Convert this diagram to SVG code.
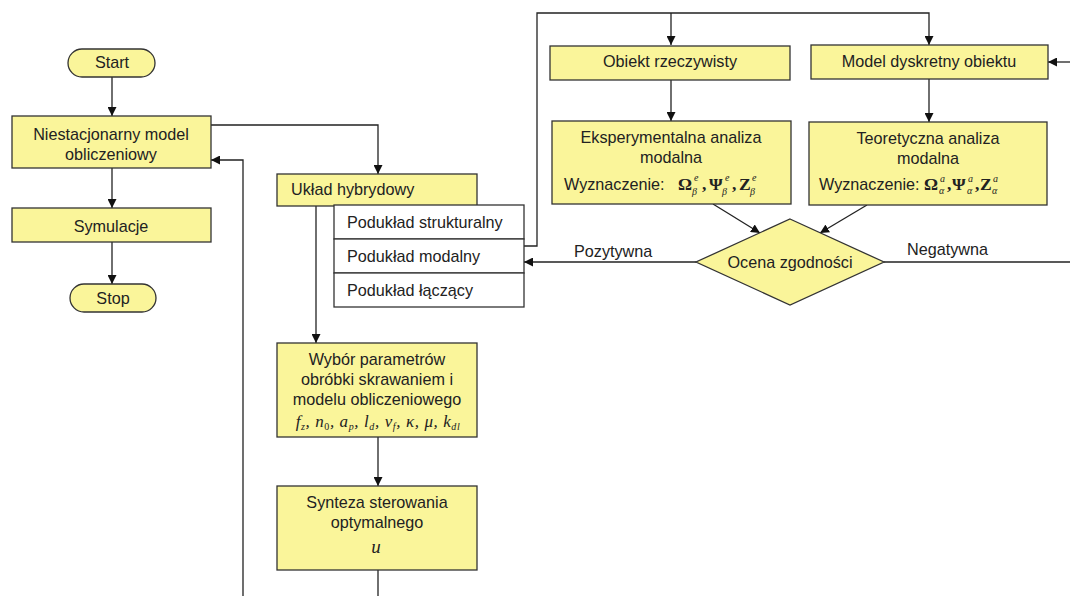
<svg xmlns="http://www.w3.org/2000/svg" width="1070" height="596" viewBox="0 0 1070 596">
  <style>
    .box { fill: #FAF59A; stroke: #333; stroke-width: 1.3; }
    .cell { fill: #FFFFFF; stroke: #333; stroke-width: 1.3; }
    .t { font-family: "Liberation Sans", Arial, sans-serif; font-size: 16.2px; fill: #222; }
    .c { text-anchor: middle; }
    .m { font-family: "Liberation Serif", "Times New Roman", serif; font-style: italic; fill: #222; }
    .g { font-family: "Liberation Serif", "Times New Roman", serif; font-weight: bold; font-size: 17.5px; fill: #222; }
    .sup { font-family: "Liberation Serif", "Times New Roman", serif; font-style: italic; font-size: 10px; fill: #222; }
    .ln { fill: none; stroke: #222; stroke-width: 1.3; }
    .arr { marker-end: url(#ah); }
  </style>
  <defs>
    <marker id="ah" viewBox="0 0 10 10" refX="10" refY="5" markerWidth="9" markerHeight="9" markerUnits="userSpaceOnUse" orient="auto">
      <path d="M0,0 L10,5 L0,10 Z" fill="#111"/>
    </marker>
  </defs>

  <!-- connectors -->
  <g id="connectors">
    <line class="ln arr" x1="112" y1="77" x2="112" y2="116"/>
    <line class="ln arr" x1="112" y1="168" x2="112" y2="208"/>
    <line class="ln arr" x1="112" y1="242" x2="112" y2="284"/>
    <polyline class="ln arr" points="211,125 378,125 378,174"/>
    <polyline class="ln arr" points="243,596 243,160 211,160"/>
    <line class="ln arr" x1="316" y1="206" x2="316" y2="343"/>
    <line class="ln arr" x1="378" y1="437" x2="378" y2="486"/>
    <line class="ln" x1="378" y1="570" x2="378" y2="596"/>
    <polyline class="ln arr" points="524,246 537,246 537,13 929,13 929,45"/>
    <line class="ln arr" x1="671" y1="13" x2="671" y2="45"/>
    <line class="ln arr" x1="671" y1="80" x2="671" y2="121"/>
    <line class="ln arr" x1="929" y1="79" x2="929" y2="122"/>
    <line class="ln arr" x1="1070" y1="62" x2="1048" y2="62"/>
    <line class="ln arr" x1="713" y1="204" x2="760" y2="233"/>
    <line class="ln arr" x1="867" y1="205" x2="820" y2="233"/>
    <line class="ln arr" x1="696" y1="262" x2="524" y2="262"/>
    <line class="ln" x1="884" y1="262" x2="1070" y2="262"/>
    <text class="t" x="574" y="257">Pozytywna</text>
    <text class="t" x="907" y="255">Negatywna</text>
  </g>

  <g id="start">
    <rect class="box" x="68" y="49" width="87" height="28" rx="14" ry="14"/>
    <text class="t c" x="112" y="68">Start</text>
  </g>

  <g id="model-niestacjonarny">
    <rect class="box" x="12" y="116" width="199" height="52"/>
    <text class="t c" x="111" y="140">Niestacjonarny model</text>
    <text class="t c" x="111" y="160">obliczeniowy</text>
  </g>

  <g id="symulacje">
    <rect class="box" x="12" y="208" width="199" height="34"/>
    <text class="t c" x="111" y="232">Symulacje</text>
  </g>

  <g id="stop">
    <rect class="box" x="70" y="284" width="86" height="28" rx="14" ry="14"/>
    <text class="t c" x="113" y="304">Stop</text>
  </g>

  <g id="uklad-hybrydowy">
    <rect class="box" x="277" y="174" width="200" height="32"/>
    <text class="t" x="291" y="195">Układ hybrydowy</text>
  </g>

  <g id="podukłady">
    <rect class="cell" x="334" y="205" width="190" height="34"/>
    <rect class="cell" x="334" y="239" width="190" height="34"/>
    <rect class="cell" x="334" y="273" width="190" height="34"/>
    <text class="t" x="347" y="228">Podukład strukturalny</text>
    <text class="t" x="347" y="262">Podukład modalny</text>
    <text class="t" x="347" y="296">Podukład łączący</text>
  </g>

  <g id="wybor-parametrow">
    <rect class="box" x="277" y="343" width="200" height="94"/>
    <text class="t c" x="377" y="365">Wybór parametrów</text>
    <text class="t c" x="377" y="385">obróbki skrawaniem i</text>
    <text class="t c" x="377" y="405">modelu obliczeniowego</text>
    <text class="m c" x="378" y="427" font-size="17" letter-spacing="0.6">f<tspan font-size="10" dy="3">z</tspan><tspan dy="-3">, n</tspan><tspan font-size="10" font-style="normal" dy="3">0</tspan><tspan dy="-3">, a</tspan><tspan font-size="10" dy="3">p</tspan><tspan dy="-3">, l</tspan><tspan font-size="10" dy="3">d</tspan><tspan dy="-3">, v</tspan><tspan font-size="10" dy="3">f</tspan><tspan dy="-3">, κ, μ, k</tspan><tspan font-size="10" dy="3">dl</tspan></text>
  </g>

  <g id="synteza-sterowania">
    <rect class="box" x="277" y="486" width="200" height="84"/>
    <text class="t c" x="377" y="508">Synteza sterowania</text>
    <text class="t c" x="377" y="528">optymalnego</text>
    <text class="m c" x="376" y="553" font-size="19">u</text>
  </g>

  <g id="obiekt-rzeczywisty">
    <rect class="box" x="550" y="46" width="240" height="34"/>
    <text class="t c" x="670" y="67">Obiekt rzeczywisty</text>
  </g>

  <g id="model-dyskretny">
    <rect class="box" x="811" y="45" width="237" height="34"/>
    <text class="t c" x="929" y="67">Model dyskretny obiektu</text>
  </g>

  <g id="analiza-eksperymentalna">
    <rect class="box" x="552" y="121" width="239" height="83"/>
    <text class="t c" x="671" y="143">Eksperymentalna analiza</text>
    <text class="t c" x="671" y="163">modalna</text>
    <text class="t" x="564" y="190">Wyznaczenie:</text>
    <text class="g" x="678" y="190">Ω</text>
    <text class="sup" x="694" y="181">e</text>
    <text class="sup" x="692" y="195" font-size="11">β</text>
    <text class="g" x="702" y="190" font-weight="normal">,</text>
    <text class="g" x="709" y="190">Ψ</text>
    <text class="sup" x="725" y="181">e</text>
    <text class="sup" x="722" y="195" font-size="11">β</text>
    <text class="g" x="732" y="190" font-weight="normal">,</text>
    <text class="g" x="739" y="190">Z</text>
    <text class="sup" x="752" y="181">e</text>
    <text class="sup" x="750" y="195" font-size="11">β</text>
  </g>

  <g id="analiza-teoretyczna">
    <rect class="box" x="809" y="122" width="238" height="83"/>
    <text class="t c" x="928" y="144">Teoretyczna analiza</text>
    <text class="t c" x="928" y="164">modalna</text>
    <text class="t" x="819" y="190">Wyznaczenie:</text>
    <text class="g" x="924" y="190">Ω</text>
    <text class="sup" x="940" y="182">a</text>
    <text class="sup" x="939" y="194">α</text>
    <text class="g" x="947" y="190" font-weight="normal">,</text>
    <text class="g" x="952" y="190">Ψ</text>
    <text class="sup" x="968" y="182">a</text>
    <text class="sup" x="967" y="194">α</text>
    <text class="g" x="975" y="190" font-weight="normal">,</text>
    <text class="g" x="980" y="190">Z</text>
    <text class="sup" x="993" y="182">a</text>
    <text class="sup" x="992" y="194">α</text>
  </g>

  <g id="ocena-zgodnosci">
    <polygon class="box" points="790,219 884,262 790,305 696,262"/>
    <text class="t c" x="790" y="268">Ocena zgodności</text>
  </g>
</svg>
